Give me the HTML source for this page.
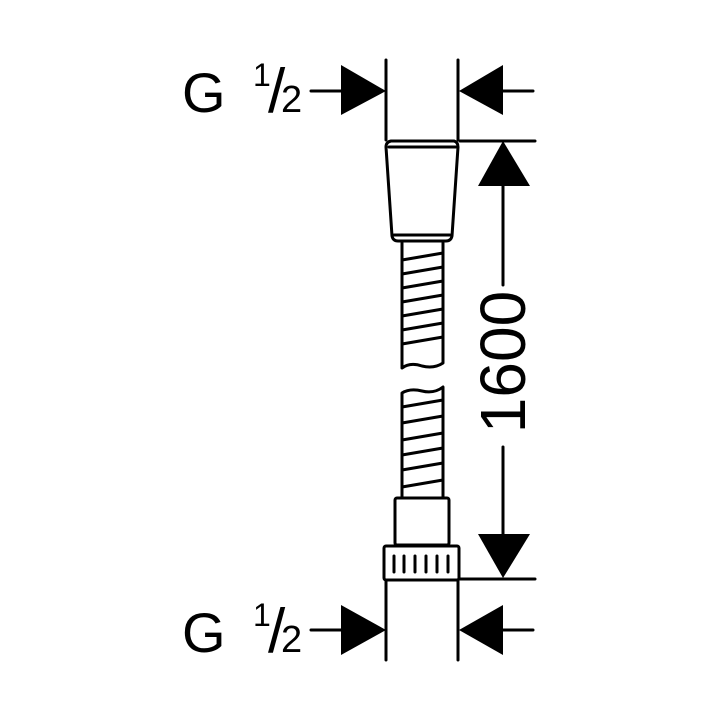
<!DOCTYPE html>
<html><head><style>html,body{margin:0;background:#fff}svg{display:block}</style></head><body>
<svg width="720" height="720" viewBox="0 0 720 720" xmlns="http://www.w3.org/2000/svg">
<g stroke="#000" stroke-width="3" fill="none" stroke-linecap="round" stroke-linejoin="round">
<line x1="386" y1="60" x2="386" y2="140"/><line x1="458" y1="60" x2="458" y2="140"/>
<line x1="386" y1="580" x2="386" y2="660"/><line x1="458" y1="580" x2="458" y2="660"/>
<line x1="460" y1="141" x2="535" y2="141"/><line x1="460" y1="579" x2="535" y2="579"/>
<line x1="311" y1="91" x2="343" y2="91"/><line x1="503" y1="91" x2="533" y2="91"/>
<line x1="311" y1="630" x2="343" y2="630"/><line x1="503" y1="630" x2="533" y2="630"/>
<line x1="503" y1="186" x2="503" y2="285"/><line x1="503" y1="447" x2="503" y2="535"/>
<path d="M391 141 L454 141 Q458 142 458 147 L452 236 Q451 241 446 241 L398 241 Q393 241 392 236 L386 147 Q386 142 391 141 Z"/>
<line x1="389" y1="147" x2="456" y2="147"/>
<line x1="394" y1="235" x2="450" y2="235"/>
<path d="M402 243 L402 368 Q410 362 422 366 Q434 369 443 363 L443 243"/>
<line x1="402" y1="260" x2="443" y2="253"/>
<line x1="402" y1="274" x2="443" y2="267"/>
<line x1="402" y1="288" x2="443" y2="281"/>
<line x1="402" y1="302" x2="443" y2="295"/>
<line x1="402" y1="316" x2="443" y2="309"/>
<line x1="402" y1="330" x2="443" y2="323"/>
<line x1="402" y1="344" x2="443" y2="337"/>
<path d="M402 497 L402 393 Q410 388 422 391 Q434 394 443 387 L443 497"/>
<line x1="402" y1="407" x2="443" y2="400"/>
<line x1="402" y1="423" x2="443" y2="416"/>
<line x1="402" y1="440" x2="443" y2="433"/>
<line x1="402" y1="455" x2="443" y2="448"/>
<line x1="402" y1="470" x2="443" y2="463"/>
<line x1="402" y1="487" x2="443" y2="480"/>
<rect x="395" y="498" width="54" height="47" rx="2"/>
<rect x="384" y="546" width="75" height="34" rx="2"/>
<line x1="394" y1="556" x2="394" y2="572"/><line x1="404" y1="556" x2="404" y2="572"/>
<line x1="415" y1="556" x2="415" y2="572"/><line x1="426" y1="556" x2="426" y2="572"/>
<line x1="437" y1="556" x2="437" y2="572"/><line x1="448" y1="556" x2="448" y2="572"/>
</g>
<g fill="#000">
<polygon points="341,65 386,91 341,115"/><polygon points="503,65 459,91 503,115"/>
<polygon points="341,605 386,630 341,655"/><polygon points="503,605 459,630 503,655"/>
<polygon points="503,141 478,186 530,186"/><polygon points="503,578 478,534 530,534"/>
</g>
<g font-family="Liberation Sans, sans-serif" fill="#000">
<text x="182" y="112" font-size="56">G</text>
<text x="253" y="86" font-size="32">1</text>
<text x="268" y="112" font-size="62" transform="translate(0,0)">/</text>
<text x="281" y="112" font-size="38">2</text>
<text x="182" y="652" font-size="56">G</text>
<text x="253" y="626" font-size="32">1</text>
<text x="268" y="652" font-size="62">/</text>
<text x="281" y="652" font-size="38">2</text>
<text transform="translate(525,362) rotate(-90)" text-anchor="middle" font-size="64">1600</text>
</g>
</svg>
</body></html>
